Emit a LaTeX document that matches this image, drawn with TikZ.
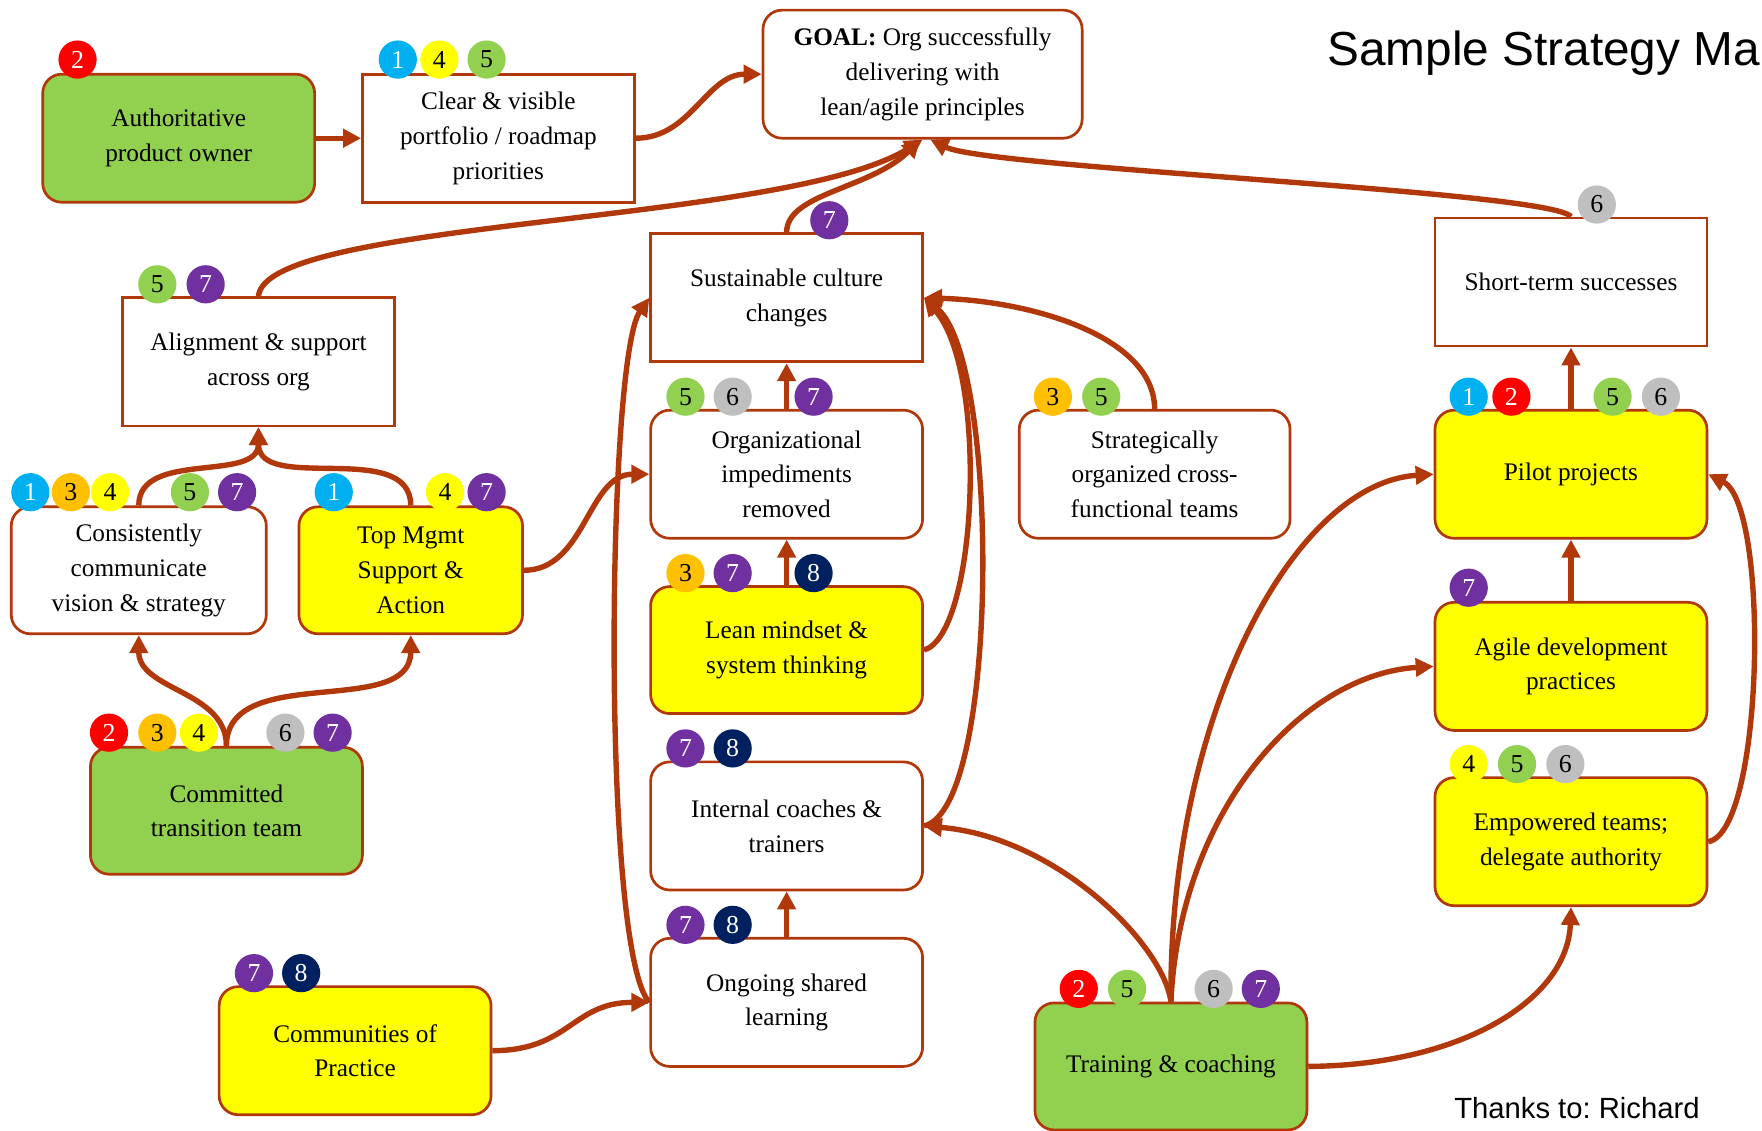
\documentclass[tikz,border=0pt]{standalone}
\usepackage{fontspec}
\setmainfont{Liberation Serif}
\newfontfamily\titlefont{Liberation Sans}
\usetikzlibrary{arrows.meta}
\frenchspacing
\definecolor{brn}{RGB}{176,56,10}
\definecolor{gfill}{HTML}{92D050}
\definecolor{yfill}{HTML}{FFFF00}
\definecolor{c1}{HTML}{00B0F0}
\definecolor{c2}{HTML}{FF0000}
\definecolor{c3}{HTML}{FFC000}
\definecolor{c4}{HTML}{FFFF00}
\definecolor{c5}{HTML}{92D050}
\definecolor{c6}{HTML}{BFBFBF}
\definecolor{c7}{HTML}{7030A0}
\definecolor{c8}{HTML}{002060}
\colorlet{t1}{white}
\colorlet{t2}{white}
\colorlet{t3}{black}
\colorlet{t4}{black}
\colorlet{t5}{black}
\colorlet{t6}{black}
\colorlet{t7}{white}
\colorlet{t8}{white}
\tikzset{
  box/.style={draw=brn, line width=2.4pt, fill=white, align=center,
    minimum width=242pt, minimum height=114pt, inner sep=0pt,
    font=\fontsize{22.5}{31}\selectfont},
  rbox/.style={box, rounded corners=17pt},
  gbox/.style={rbox, fill=gfill},
  ybox/.style={rbox, fill=yfill},
  conn/.style={draw=brn, line width=4.8pt, -{Triangle[length=16pt,width=16pt]}},
  badge/.style={circle, minimum size=34pt, inner sep=0pt,
    font=\fontsize{23}{23}\selectfont},
}
\newcommand\mybadge[4]{\node[badge, fill=c#4, text=t#4] (#1) at (#2,#3) {#4};}
\begin{document}
\begin{tikzpicture}[x=1pt,y=-1pt]
\useasboundingbox (0,0) rectangle (1568,1006);
\fill[white] (0,0) rectangle (1568,1006);

% boxes
\node[gbox] (A) at (159,123) {Authoritative\\product owner};
\node[box] (B) at (443.5,123) {Clear \& visible\\portfolio / roadmap\\priorities};
\node[rbox, minimum width=284pt] (C) at (821,66) {\textbf{GOAL:} Org successfully\\delivering with\\lean/agile principles};
\node[box] (D) at (230,322) {Alignment \& support\\across org};
\node[box] (E) at (700,265) {Sustainable culture\\changes};
\node[box] (F) at (1398,251) {Short-term successes};
\node[rbox, minimum width=227pt, minimum height=113pt] (G) at (123.5,507.5) {Consistently\\communicate\\vision \& strategy};
\node[ybox, minimum width=199pt, minimum height=113pt] (H) at (365.5,507.5) {Top Mgmt\\Support \&\\Action};
\node[rbox] (I) at (700,422) {Organizational\\impediments\\removed};
\node[rbox, minimum width=241pt] (J) at (1027.5,422) {Strategically\\organized cross-\\functional teams};
\node[ybox] (K) at (1398,422) {Pilot projects};
\node[ybox, minimum height=113pt] (L) at (700,578.5) {Lean mindset \&\\system thinking};
\node[ybox] (M) at (1398,593) {Agile development\\practices};
\node[gbox, minimum height=113pt] (N) at (201.5,721.5) {Committed\\transition team};
\node[rbox] (O) at (700,735) {Internal coaches \&\\trainers};
\node[ybox] (P) at (1398,749) {Empowered teams;\\delegate authority};
\node[rbox] (Q) at (700,892) {Ongoing shared\\learning};
\node[ybox] (R) at (316,935) {Communities of\\Practice};
\node[gbox, minimum height=113pt] (S) at (1042,949) {Training \& coaching};

% connectors
\draw[conn] (A.east) -- (B.west);
\draw[conn] (B.east) to[out=0,in=180] (C.west);
\draw[conn] (D.north) .. controls (235,195) and (700,200) .. (C.south);
\draw[conn] (E.north) .. controls (700,172) and (775,168) .. ([xshift=-2pt]C.south);
\draw[conn] (F.north) .. controls (1380,170) and (880,150) .. ([xshift=7pt]C.south);
\draw[conn] (G.north) to[out=90,in=-90] (D.south);
\draw[conn] (H.north) to[out=90,in=-90] (D.south);
\draw[conn] (N.north) to[out=90,in=-90] (G.south);
\draw[conn] (N.north) to[out=90,in=-90] (H.south);
\draw[conn] (H.east) to[out=0,in=180] (I.west);
\draw[conn] (I.north) -- (E.south);
\draw[conn] (L.north) -- (I.south);
\draw[conn] (L.east) .. controls (870,565) and (880,330) .. (E.east);
\draw[conn] (O.east) .. controls (890,720) and (890,320) .. (E.east);
\draw[conn] (J.north) .. controls (1027,300) and (920,268) .. (E.east);
\draw[conn] (R.east) to[out=0,in=180,looseness=1.2] (Q.west);
\draw[conn] (Q.west) .. controls (535,845) and (540,320) .. (E.west);
\draw[conn] (Q.north) -- (O.south);
\draw[conn] (S.north) .. controls (1035,840) and (940,745) .. (O.east);
\draw[conn] (S.north) .. controls (1040,640) and (1150,430) .. (K.west);
\draw[conn] (S.north) .. controls (1050,720) and (1160,600) .. (M.west);
\draw[conn] (S.east) .. controls (1300,948) and (1395,890) .. (P.south);
\draw[conn] (K.north) -- (F.south);
\draw[conn] (M.north) -- (K.south);
\draw[conn] (P.east) .. controls (1570,740) and (1575,450) .. (K.east);

% badges
\mybadge{a2}{69}{53}{2}
\mybadge{b1}{354}{53}{1}
\mybadge{b4}{391}{53}{4}
\mybadge{b5}{433}{53}{5}
\mybadge{d5}{140}{253}{5}
\mybadge{d7}{183}{253}{7}
\mybadge{e7}{738}{196}{7}
\mybadge{f6}{1421}{182}{6}
\mybadge{g1}{27}{438}{1}
\mybadge{g3}{63}{438}{3}
\mybadge{g4}{98}{438}{4}
\mybadge{g5}{169}{438}{5}
\mybadge{g7}{211}{438}{7}
\mybadge{h1}{297}{438}{1}
\mybadge{h4}{396}{438}{4}
\mybadge{h7}{433}{438}{7}
\mybadge{i5}{610}{353}{5}
\mybadge{i6}{652}{353}{6}
\mybadge{i7}{724}{353}{7}
\mybadge{j3}{937}{353}{3}
\mybadge{j5}{980}{353}{5}
\mybadge{k1}{1307}{353}{1}
\mybadge{k2}{1345}{353}{2}
\mybadge{k5}{1435}{353}{5}
\mybadge{k6}{1478}{353}{6}
\mybadge{l3}{610}{510}{3}
\mybadge{l7}{652}{510}{7}
\mybadge{l8}{724}{510}{8}
\mybadge{m7}{1307}{523}{7}
\mybadge{n2}{97}{652}{2}
\mybadge{n3}{140}{652}{3}
\mybadge{n4}{177}{652}{4}
\mybadge{n6}{254}{652}{6}
\mybadge{n7}{296}{652}{7}
\mybadge{o7}{610}{666}{7}
\mybadge{o8}{652}{666}{8}
\mybadge{p4}{1307}{680}{4}
\mybadge{p5}{1350}{680}{5}
\mybadge{p6}{1393}{680}{6}
\mybadge{q7}{610}{823}{7}
\mybadge{q8}{652}{823}{8}
\mybadge{r7}{226}{866}{7}
\mybadge{r8}{268}{866}{8}
\mybadge{s2}{960}{880}{2}
\mybadge{s5}{1003}{880}{5}
\mybadge{s6}{1080}{880}{6}
\mybadge{s7}{1122}{880}{7}

% titles
\node[anchor=base west, inner sep=0pt, font=\titlefont\fontsize{42.5}{42.5}\selectfont] (title) at (1181,58) {Sample Strategy Ma};
\node[anchor=base west, inner sep=0pt, font=\titlefont\fontsize{26}{26}\selectfont] (thanks) at (1294,995) {Thanks to: Richard};
\end{tikzpicture}
\end{document}
